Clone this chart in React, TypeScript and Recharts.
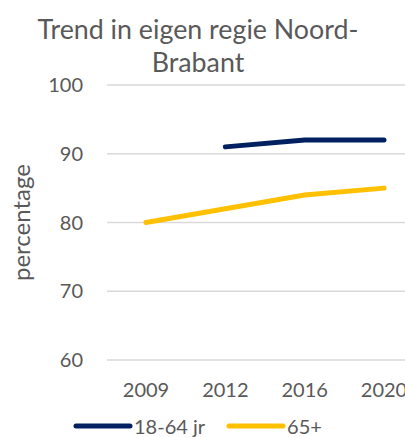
import { CartesianGrid, Line, LineChart, XAxis, YAxis } from "recharts";

const years = ["2009", "2012", "2016", "2020"];
const age18to64 = [null, 91, 92, 92];
const age65plus = [80, 82, 84, 85];
const yTicks = [60, 70, 80, 90, 100];

const NAVY = "#002060";
const GOLD = "#FFC000";
const TEXT = "#595959";
const FONT = "Lato, 'Open Sans', sans-serif";

const data = years.map((year, i) => ({
  year,
  "18-64 jr": age18to64[i],
  "65+": age65plus[i],
}));

const legendItems = [
  { name: "18-64 jr", color: NAVY },
  { name: "65+", color: GOLD },
];

// legend sits below the clipped plot, so it lives outside the chart svg
function LegendRow() {
  return (
    <div
      style={{
        position: "absolute", left: 72, top: 414, display: "flex", alignItems: "center",
        fontFamily: FONT, fontSize: 20, lineHeight: "24px", color: TEXT,
      }}
    >
      {legendItems.map((item) => (
        <div key={item.name} style={{ display: "flex", alignItems: "center", marginRight: 20 }}>
          <svg width={62} height={10}>
            <line x1={4} y1={5} x2={58} y2={5} stroke={item.color} strokeWidth={5} strokeLinecap="round" />
          </svg>
          <span>{item.name}</span>
        </div>
      ))}
    </div>
  );
}

export default function App() {
  return (
    <div style={{ position: "absolute", left: 0, top: 0, width: 405, height: 437, overflow: "hidden", background: "#fff" }}>
      <div
        style={{
          position: "absolute", left: 0, top: 13, width: 396, textAlign: "center",
          fontFamily: FONT, fontSize: 26.8, lineHeight: "33px", color: TEXT,
        }}
      >
        Trend in eigen regie Noord-
        <br />
        Brabant
      </div>
      <LineChart width={430} height={437} data={data} margin={{ top: 85, right: 7, bottom: 0, left: 0 }}>
        <CartesianGrid vertical={false} stroke="#d9d9d9" strokeWidth={1.5} />
        <XAxis
          dataKey="year"
          axisLine={false}
          tickLine={false}
          height={77}
          padding={{ left: 39, right: 39 }}
          tickMargin={17}
          tick={{ fill: TEXT, fontSize: 20, fontFamily: FONT }}
        />
        <YAxis
          domain={[60, 100]}
          ticks={yTicks}
          width={107}
          axisLine={false}
          tickLine={false}
          tickMargin={18}
          tick={{ fill: TEXT, fontSize: 20, fontFamily: FONT }}
          label={{
            value: "percentage", angle: -90, position: "insideLeft", dx: 16,
            style: { fill: TEXT, fontSize: 24, fontFamily: FONT, textAnchor: "middle" },
          }}
        />
        <Line
          dataKey="18-64 jr"
          stroke={NAVY}
          strokeWidth={5}
          strokeLinecap="round"
          dot={false}
          isAnimationActive={false}
        />
        <Line
          dataKey="65+"
          stroke={GOLD}
          strokeWidth={5}
          strokeLinecap="round"
          dot={false}
          isAnimationActive={false}
        />
      </LineChart>
      <LegendRow />
    </div>
  );
}
